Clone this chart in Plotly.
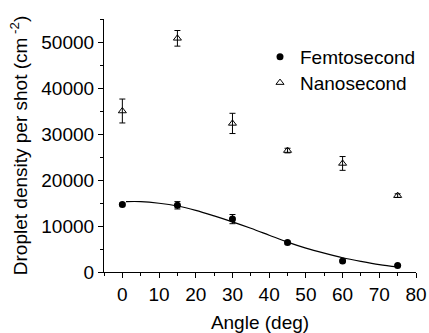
import plotly.graph_objects as go

angles = [0, 15, 30, 45, 60, 75]
femto = [14700, 14500, 11500, 6400, 2400, 1400]
femto_err = [300, 800, 1000, 300, 200, 200]
nano = [35000, 50800, 32300, 26400, 23600, 16600]
nano_err = [2600, 1700, 2200, 500, 1500, 400]

fit_x = [1, 5, 10, 15, 20, 25, 30, 35, 40, 45, 50, 55, 60, 65, 70, 75]
fit_y = [15300, 15300, 14950, 14350, 13400, 12200, 10900, 9500, 8000, 6500, 5200, 4100, 3100, 2300, 1600, 1100]

FONT = "Liberation Sans, Arial, sans-serif"
FS = 19

fig = go.Figure()
fig.add_trace(go.Scatter(x=fit_x, y=fit_y, mode="lines", line=dict(color="black", width=1.2, shape="spline"),
                         showlegend=False, hoverinfo="skip"))
fig.add_trace(go.Scatter(x=angles, y=femto, mode="markers", name="Femtosecond",
                         marker=dict(symbol="circle", size=7, color="black"),
                         error_y=dict(type="data", array=femto_err, color="black", thickness=1, width=3),
                         legend="legend"))
fig.add_trace(go.Scatter(x=angles, y=nano, mode="markers", name="Nanosecond",
                         marker=dict(symbol="triangle-up-open", size=7, color="black", line=dict(width=1)),
                         error_y=dict(type="data", array=nano_err, color="black", thickness=1, width=3),
                         legend="legend2"))

axis_common = dict(showline=True, linecolor="black", linewidth=1.2, ticks="outside", ticklen=5,
                   tickwidth=1.2, tickcolor="black", showgrid=False, zeroline=False, automargin=False,
                   tickfont=dict(family=FONT, size=FS, color="black"))

fig.update_layout(
    width=429, height=333,
    margin=dict(l=104, r=13, t=19, b=61, autoexpand=False),
    paper_bgcolor="white", plot_bgcolor="white",
    xaxis=dict(range=[-5, 80], dtick=10, tick0=0,
               minor=dict(dtick=5, ticklen=3, ticks="outside", tickcolor="black", tickwidth=1),
               title=dict(text="Angle (deg)", font=dict(family=FONT, size=FS, color="black"), standoff=12),
               **axis_common),
    yaxis=dict(range=[0, 55000], dtick=10000, tick0=0, tickformat="d",
               minor=dict(dtick=5000, ticklen=3, ticks="outside", tickcolor="black", tickwidth=1),
               title=dict(text="Droplet density per shot (cm<sup> -2</sup>)",
                          font=dict(family=FONT, size=FS, color="black"), standoff=8),
               **axis_common),
    legend=dict(x=0.50, y=0.85, xanchor="left", yanchor="middle", bgcolor="rgba(0,0,0,0)",
                font=dict(family=FONT, size=FS, color="black"), itemwidth=30),
    legend2=dict(x=0.50, y=0.748, xanchor="left", yanchor="middle", bgcolor="rgba(0,0,0,0)",
                 font=dict(family=FONT, size=FS, color="black"), itemwidth=30),
)

fig.write_html("out.html")
